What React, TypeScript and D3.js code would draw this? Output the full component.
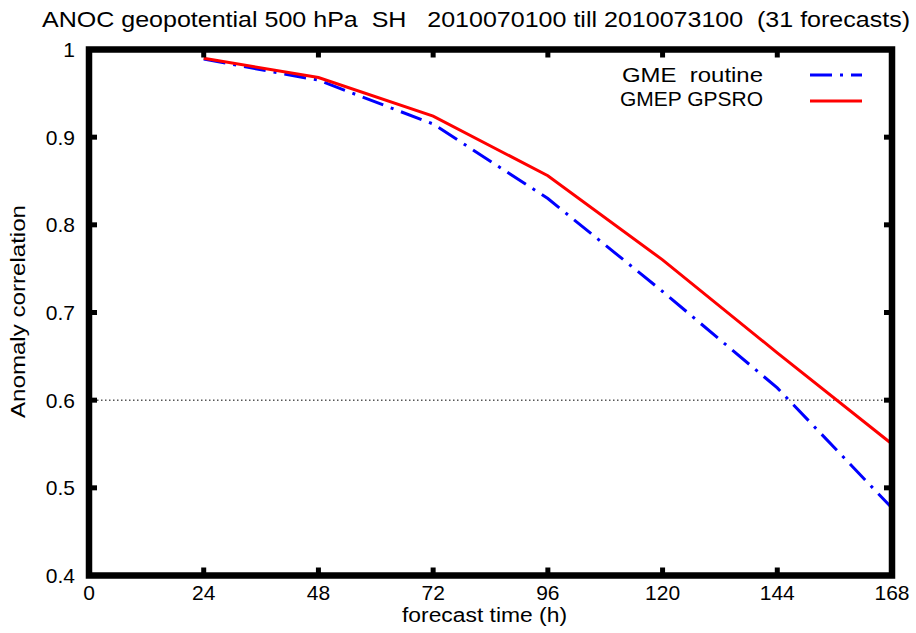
import React from "react";
import * as d3 from "d3";

const hours = [24, 48, 72, 96, 120, 144, 168];
const gmeRoutine = [0.989, 0.965, 0.915, 0.830, 0.724, 0.614, 0.477];
const gmepGpsro = [0.990, 0.968, 0.924, 0.856, 0.760, 0.654, 0.550];
const xTicks = [0, 24, 48, 72, 96, 120, 144, 168];
const yTicks = [0.4, 0.5, 0.6, 0.7, 0.8, 0.9, 1];
const yTickLabels = ["0.4", "0.5", "0.6", "0.7", "0.8", "0.9", "1"];
const seriesNames = ["GME  routine", "GMEP GPSRO"];
const title = "ANOC geopotential 500 hPa  SH   2010070100 till 2010073100  (31 forecasts)";

export default function App() {
  const W = 916, H = 633;
  const left = 89, right = 892, top = 49.5, bottom = 575.5;
  const x = d3.scaleLinear().domain([0, 168]).range([left, right]);
  const y = d3.scaleLinear().domain([0.4, 1]).range([bottom, top]);
  const line = d3.line<[number, number]>().x(d => x(d[0])).y(d => y(d[1]));
  const blue = line(hours.map((h, i) => [h, gmeRoutine[i]]));
  const red = line(hours.map((h, i) => [h, gmepGpsro[i]]));
  const font = "'Liberation Sans', Arial, Helvetica, sans-serif";
  const fs = 21;
  const tickLen = 8;
  const pre = { whiteSpace: "pre" as const };
  return (
    <svg width={W} height={H} style={{ position: "absolute", left: 0, top: 0, background: "#fff" }} fontFamily={font}>
      <text x={42} y={27} fontSize={22} style={pre} textLength={868} lengthAdjust="spacingAndGlyphs">{title}</text>
      {/* threshold line */}
      <line x1={left} x2={right} y1={y(0.6)} y2={y(0.6)} stroke="#000" strokeWidth={1} strokeDasharray="1.5,2.5" />
      {/* series */}
      <path d={blue || ""} fill="none" stroke="#0000ff" strokeWidth={3} strokeDasharray="22,8,3,8" />
      <path d={red || ""} fill="none" stroke="#ff0000" strokeWidth={3} />
      {/* ticks */}
      {xTicks.map(t => (
        <g key={"x" + t}>
          <line x1={x(t)} x2={x(t)} y1={bottom} y2={bottom - tickLen} stroke="#000" strokeWidth={5} />
          <line x1={x(t)} x2={x(t)} y1={top} y2={top + tickLen} stroke="#000" strokeWidth={5} />
          <text x={x(t)} y={600} textAnchor="middle" fontSize={fs}>{t}</text>
        </g>
      ))}
      {yTicks.map((t, i) => (
        <g key={"y" + t}>
          <line x1={left} x2={left + tickLen} y1={y(t)} y2={y(t)} stroke="#000" strokeWidth={5} />
          <line x1={right} x2={right - tickLen} y1={y(t)} y2={y(t)} stroke="#000" strokeWidth={5} />
          <text x={75} y={y(t) + 7.5} textAnchor="end" fontSize={fs}>{yTickLabels[i]}</text>
        </g>
      ))}
      {/* frame */}
      <rect x={left} y={top} width={right - left} height={bottom - top} fill="none" stroke="#000" strokeWidth={6.5} />
      {/* axis titles */}
      <text x={402} y={622} fontSize={20} textLength={165} lengthAdjust="spacingAndGlyphs">forecast time (h)</text>
      <text transform={`translate(25,418) rotate(-90)`} fontSize={20} textLength={213} lengthAdjust="spacingAndGlyphs">Anomaly correlation</text>
      {/* legend */}
      <text x={622} y={82} fontSize={fs} style={pre} textLength={141} lengthAdjust="spacingAndGlyphs">{seriesNames[0]}</text>
      <line x1={810} x2={862} y1={75} y2={75} stroke="#0000ff" strokeWidth={3} strokeDasharray="22,8,3,8" />
      <text x={620} y={106} fontSize={fs} style={pre} textLength={143} lengthAdjust="spacingAndGlyphs">{seriesNames[1]}</text>
      <line x1={810} x2={862} y1={101} y2={101} stroke="#ff0000" strokeWidth={3} />
    </svg>
  );
}
